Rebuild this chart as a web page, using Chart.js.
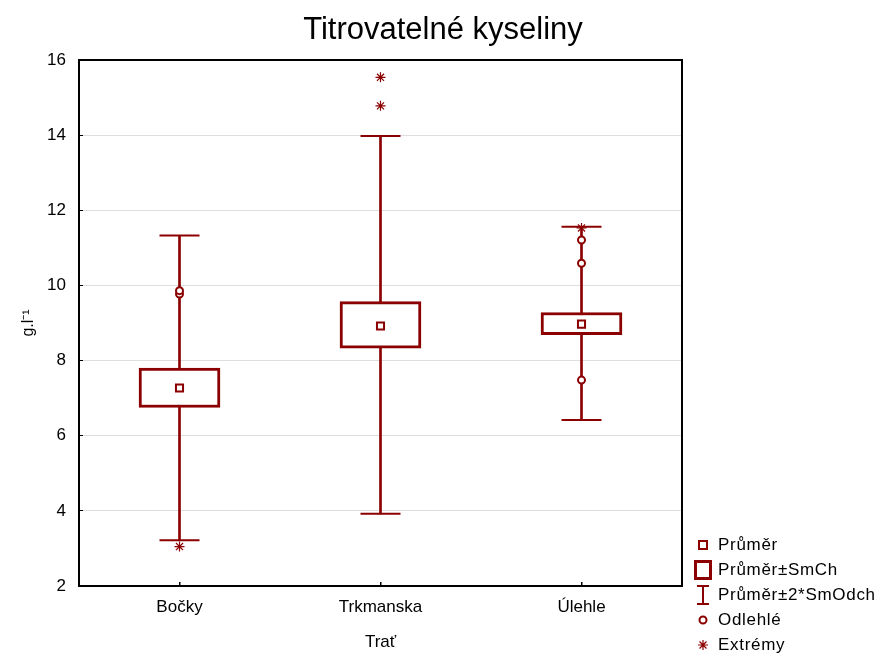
<!DOCTYPE html>
<html>
<head>
<meta charset="utf-8">
<script src="https://cdn.jsdelivr.net/npm/chart.js@4"></script>
<style>
  body { margin: 0; background: #fff; }
  #wrap { position: relative; width: 881px; height: 653px; font-family: "Liberation Sans", Arial, sans-serif; }
  #chart { position: absolute; left: 0; top: 0; }
  #title { position: absolute; top: 11px; left: 243px; width: 400px; text-align: center; font-size: 31px; color: #000; }
  #legend { position: absolute; left: 692px; top: 532px; font-size: 17px; letter-spacing: 0.7px; color: #000; }
  #legend .row { height: 25px; display: flex; align-items: center; }
  #legend svg { width: 22px; height: 22px; margin-right: 4px; }
</style>
</head>
<body>
<div id="wrap">
  <canvas id="chart" width="881" height="653"></canvas>
  <div id="title">Titrovatelné kyseliny</div>
  <div id="legend">
    <div class="row"><svg viewBox="0 0 22 22"><rect x="7" y="7" width="8" height="8" fill="#fff" stroke="#8b0000" stroke-width="2"/></svg>Průměr</div>
    <div class="row"><svg viewBox="0 0 22 22"><rect x="3.5" y="2.5" width="15" height="17" fill="#fff" stroke="#8b0000" stroke-width="3"/></svg>Průměr±SmCh</div>
    <div class="row"><svg viewBox="0 0 22 22"><path d="M5 2 H17 M11 2 V20 M5 20 H17" stroke="#8b0000" stroke-width="2" fill="none"/></svg>Průměr±2*SmOdch</div>
    <div class="row"><svg viewBox="0 0 22 22"><circle cx="11" cy="11" r="3.5" fill="#fff" stroke="#8b0000" stroke-width="2"/></svg>Odlehlé</div>
    <div class="row"><svg viewBox="0 0 22 22"><path d="M11 6 V16 M6 11 H16 M7.5 7.5 L14.5 14.5 M14.5 7.5 L7.5 14.5" stroke="#8b0000" stroke-width="1.2" fill="none"/></svg>Extrémy</div>
  </div>
</div>
<script>
const categories = ['Bočky', 'Trkmanska', 'Úlehle'];
const means = [7.27, 8.92, 8.97];
const boxLow = [6.75, 8.33, 8.69];
const boxHigh = [7.80, 9.57, 9.28];
const whiskerLow = [3.22, 3.92, 6.42];
const whiskerHigh = [11.33, 13.98, 11.56];
const outliers = [[9.77, 9.86], [], [11.21, 10.59, 7.48]];
const extremes = [[3.05], [15.54, 14.78], [11.53]];
const yTicks = [2, 4, 6, 8, 10, 12, 14, 16];

const red = '#8b0000';

// flatten per-category lists into {x, y} points
const toPoints = lists => lists.flatMap((vals, i) => vals.map(v => ({ x: categories[i], y: v })));

// frame round the plot area
const framePlugin = {
  id: 'frame',
  beforeDatasetsDraw(chart) {
    const a = chart.chartArea;
    const ctx = chart.ctx;
    ctx.save();
    ctx.strokeStyle = '#000';
    ctx.lineWidth = 2;
    ctx.strokeRect(a.left, a.top, a.right - a.left, a.bottom - a.top);
    ctx.restore();
  }
};

const ctx = document.getElementById('chart').getContext('2d');
new Chart(ctx, {
  data: {
    labels: categories,
    datasets: [
      {
        type: 'line', label: 'Extrémy', data: toPoints(extremes), showLine: false,
        pointStyle: 'star', pointRadius: 5, pointBorderWidth: 1.2,
        pointBorderColor: red, pointBackgroundColor: red, order: 0
      },
      {
        type: 'line', label: 'Odlehlé', data: toPoints(outliers), showLine: false,
        pointStyle: 'circle', pointRadius: 3.5, pointBorderWidth: 2,
        pointBorderColor: red, pointBackgroundColor: '#fff', order: 1
      },
      {
        type: 'line', label: 'Průměr', data: means, showLine: false,
        pointStyle: 'rect', pointRadius: 5, pointBorderWidth: 2,
        pointBorderColor: red, pointBackgroundColor: '#fff', order: 2
      },
      {
        type: 'line', label: 'cap high', data: whiskerHigh, showLine: false,
        pointStyle: 'line', pointRadius: 20, pointBorderWidth: 2,
        pointBorderColor: red, order: 3
      },
      {
        type: 'line', label: 'cap low', data: whiskerLow, showLine: false,
        pointStyle: 'line', pointRadius: 20, pointBorderWidth: 2,
        pointBorderColor: red, order: 3
      },
      {
        type: 'bar', label: 'Průměr±SmCh', data: boxLow.map((lo, i) => [lo, boxHigh[i]]),
        grouped: false, barThickness: 81, borderSkipped: false,
        backgroundColor: '#fff', borderColor: red, borderWidth: 3, order: 4
      },
      {
        type: 'bar', label: 'Průměr±2*SmOdch', data: whiskerLow.map((lo, i) => [lo, whiskerHigh[i]]),
        grouped: false, barThickness: 2, borderSkipped: false,
        backgroundColor: red, borderWidth: 0, order: 5
      }
    ]
  },
  options: {
    animation: false,
    responsive: false,
    events: [],
    layout: { padding: { top: 60, right: 199, left: 0, bottom: 0 } },
    plugins: { legend: { display: false }, tooltip: { enabled: false } },
    scales: {
      x: {
        offset: true,
        grid: { offset: false, drawOnChartArea: false, tickLength: -4, tickColor: '#000', lineWidth: 1.5 },
        border: { display: false },
        ticks: { color: '#000', padding: 15, font: { family: 'Liberation Sans', size: 17 } },
        title: { display: true, text: 'Trať', color: '#000', padding: { top: 0, bottom: 0 },
                 font: { family: 'Liberation Sans', size: 17 } },
        afterFit: s => { s.height = 67; }
      },
      y: {
        min: 2, max: 16,
        afterBuildTicks: s => { s.ticks = yTicks.map(v => ({ value: v })); },
        grid: { color: '#dedede', tickLength: -4, tickColor: '#000', lineWidth: 1 },
        border: { display: false },
        ticks: { color: '#000', padding: 17, font: { family: 'Liberation Sans', size: 17 } },
        title: { display: true, text: 'g.l⁻¹', color: '#000', padding: { top: 19, bottom: 0 },
                 font: { family: 'Liberation Sans', size: 16 } },
        afterFit: s => { s.width = 79; }
      }
    }
  },
  plugins: [framePlugin]
});
</script>
</body>
</html>
